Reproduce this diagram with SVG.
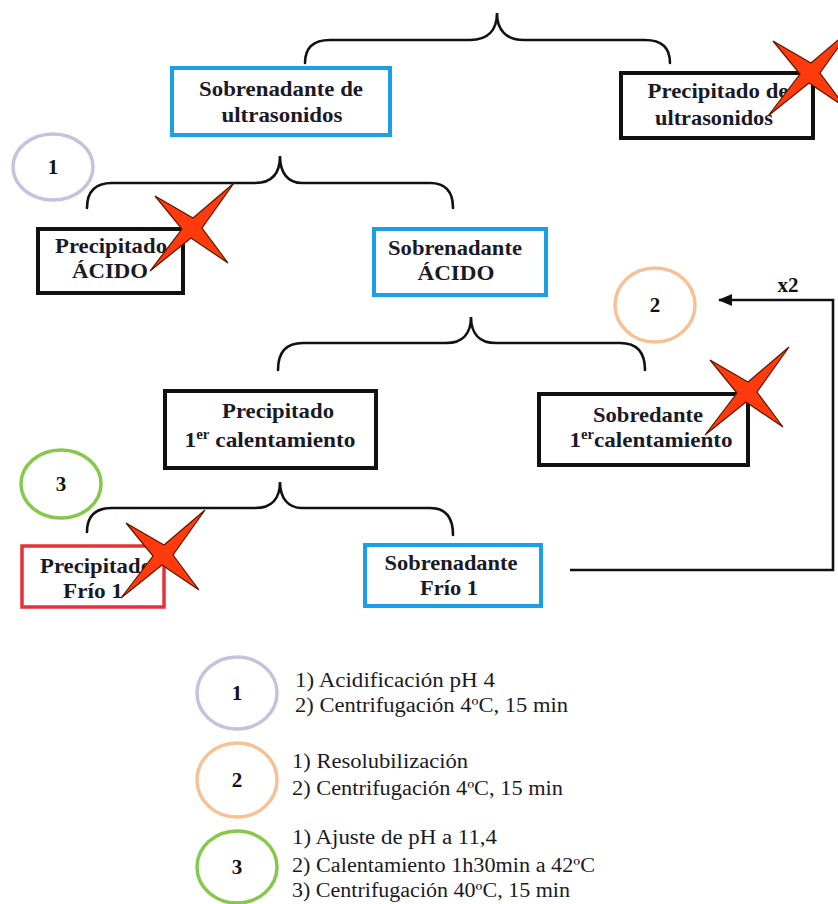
<svg xmlns="http://www.w3.org/2000/svg" width="838" height="904" viewBox="0 0 838 904">
<style>
.bx{fill:#fff;stroke-width:4}
.blue{stroke:#1b9fe6}
.black{stroke:#111}
.red{stroke:#e8303a;stroke-width:3.5}
.t{font-family:"Liberation Serif","Times New Roman",serif;font-weight:bold;font-size:22px;fill:#1a1a26;text-anchor:middle}
.sup{font-size:14px}
.br{fill:none;stroke:#111;stroke-width:2.6;stroke-linecap:round}
.c1{fill:none;stroke:#c9c0dc;stroke-width:3.5}
.c2{fill:none;stroke:#f7c197;stroke-width:3.5}
.c3{fill:none;stroke:#86c94a;stroke-width:3.5}
.n{font-family:"Liberation Serif","Times New Roman",serif;font-weight:bold;font-size:21px;fill:#111;text-anchor:middle}
.lg{font-family:"Liberation Serif","Times New Roman",serif;font-size:20px;fill:#1a1a26}
.x{fill:#ff3a0c;stroke:#5a1800;stroke-width:1.2;stroke-linejoin:miter}
.ln{fill:none;stroke:#111;stroke-width:2.6}
</style>
<defs>
<path id="star" d="M-37,-32 L1,-10 L42,-45 L10,0 L36,35 L-1,10 L-42,43 L-10,1 Z"/>
<marker id="ah" markerUnits="userSpaceOnUse" markerWidth="14" markerHeight="12" refX="13" refY="6" orient="auto">
<path d="M0,0 L14,6 L0,12 Z" fill="#111"/>
</marker>
</defs>

<g id="connectors">
<path class="br" d="M305,63 Q305,40 330,40 L470,40 C488,40 497,30 497,13 C497,30 506,40 524,40 L645,40 Q670,40 670,63"/>
<path class="br" d="M87,208 Q87,183 112,183 L255,183 C272,183 280,173 280,156 C280,173 288,183 302,183 L430,183 Q453,183 453,208"/>
<path class="br" d="M278,370 Q278,343 303,343 L446,343 C463,343 471,333 471,317 C471,333 479,343 496,343 L620,343 Q645,343 645,370"/>
<path class="br" d="M87,532 Q87,508 112,508 L255,508 C272,508 280,498 280,482 C280,498 288,508 302,508 L430,508 Q453,508 453,535"/>
<polyline class="ln" points="570,570 833,570 833,300 719,300" marker-end="url(#ah)"/>
<text class="n" x="788" y="292">x2</text>
</g>

<g id="sob-ultrasonidos">
<rect class="bx blue" x="172" y="68" width="218" height="67"/>
<text class="t" x="281" y="96" textLength="164" lengthAdjust="spacingAndGlyphs">Sobrenadante de</text>
<text class="t" x="282" y="122" textLength="121" lengthAdjust="spacingAndGlyphs">ultrasonidos</text>
</g>

<g id="prec-ultrasonidos">
<rect class="bx black" x="621" y="73" width="192" height="65"/>
<text class="t" x="718" y="98" textLength="141" lengthAdjust="spacingAndGlyphs">Precipitado de</text>
<text class="t" x="714" y="125" textLength="118" lengthAdjust="spacingAndGlyphs">ultrasonidos</text>
</g>

<g id="step1">
<ellipse class="c1" cx="53" cy="167" rx="40" ry="33"/>
<text class="n" x="53" y="174">1</text>
</g>

<g id="prec-acido">
<rect class="bx black" x="38" y="229" width="145" height="64"/>
<text class="t" x="111" y="253" textLength="112" lengthAdjust="spacingAndGlyphs">Precipitado</text>
<text class="t" x="110" y="278" textLength="76" lengthAdjust="spacingAndGlyphs">ÁCIDO</text>
</g>

<g id="sob-acido">
<rect class="bx blue" x="374" y="229" width="172" height="66"/>
<text class="t" x="455" y="255" textLength="134" lengthAdjust="spacingAndGlyphs">Sobrenadante</text>
<text class="t" x="456" y="280" textLength="77" lengthAdjust="spacingAndGlyphs">ÁCIDO</text>
</g>

<g id="step2">
<ellipse class="c2" cx="655" cy="305" rx="40" ry="37"/>
<text class="n" x="655" y="312">2</text>
</g>

<g id="prec-1er">
<rect class="bx black" x="165" y="391" width="211" height="77"/>
<text class="t" x="278" y="418" textLength="112" lengthAdjust="spacingAndGlyphs">Precipitado</text>
<text class="t" x="270" y="447" textLength="171" lengthAdjust="spacingAndGlyphs">1<tspan class="sup" dy="-8">er</tspan><tspan dy="8"> calentamiento</tspan></text>
</g>

<g id="sob-1er">
<rect class="bx black" x="539" y="394" width="209" height="71"/>
<text class="t" x="648" y="422" textLength="110" lengthAdjust="spacingAndGlyphs">Sobredante</text>
<text class="t" x="651" y="447" textLength="163" lengthAdjust="spacingAndGlyphs">1<tspan class="sup" dy="-8">er</tspan><tspan dy="8">calentamiento</tspan></text>
</g>

<g id="step3">
<ellipse class="c3" cx="61" cy="484" rx="40" ry="34"/>
<text class="n" x="61" y="491">3</text>
</g>

<g id="prec-frio">
<rect class="bx red" x="22" y="546" width="142" height="61"/>
<text class="t" x="96" y="573" textLength="112" lengthAdjust="spacingAndGlyphs">Precipitado</text>
<text class="t" x="93" y="598" textLength="60" lengthAdjust="spacingAndGlyphs">Frío 1</text>
</g>

<g id="sob-frio">
<rect class="bx blue" x="365" y="545" width="176" height="61"/>
<text class="t" x="451" y="570" textLength="133" lengthAdjust="spacingAndGlyphs">Sobrenadante</text>
<text class="t" x="449" y="595" textLength="58" lengthAdjust="spacingAndGlyphs">Frío 1</text>
</g>

<g id="crosses">
<use href="#star" class="x" transform="translate(810,73)"/>
<use href="#star" class="x" transform="translate(192,228)"/>
<use href="#star" class="x" transform="translate(747,392)"/>
<use href="#star" class="x" transform="translate(163,555)"/>
</g>

<g id="legend1">
<ellipse class="c1" cx="237" cy="693" rx="40" ry="36" stroke-width="4"/>
<text class="n" x="237" y="700">1</text>
<text class="lg" x="295" y="687" textLength="200" lengthAdjust="spacingAndGlyphs">1) Acidificación pH 4</text>
<text class="lg" x="295" y="712" textLength="273" lengthAdjust="spacingAndGlyphs">2) Centrifugación 4ºC, 15 min</text>
</g>

<g id="legend2">
<ellipse class="c2" cx="237" cy="780" rx="40" ry="37" stroke-width="4"/>
<text class="n" x="237" y="787">2</text>
<text class="lg" x="292" y="768" textLength="176" lengthAdjust="spacingAndGlyphs">1) Resolubilización</text>
<text class="lg" x="292" y="795" textLength="271" lengthAdjust="spacingAndGlyphs">2) Centrifugación 4ºC, 15 min</text>
</g>

<g id="legend3">
<ellipse class="c3" cx="237" cy="867" rx="40" ry="36" stroke-width="4"/>
<text class="n" x="237" y="874">3</text>
<text class="lg" x="292" y="844" textLength="205" lengthAdjust="spacingAndGlyphs">1) Ajuste de pH a 11,4</text>
<text class="lg" x="292" y="872" textLength="303" lengthAdjust="spacingAndGlyphs">2) Calentamiento 1h30min a 42ºC</text>
<text class="lg" x="292" y="897" textLength="278" lengthAdjust="spacingAndGlyphs">3) Centrifugación 40ºC, 15 min</text>
</g>
</svg>
